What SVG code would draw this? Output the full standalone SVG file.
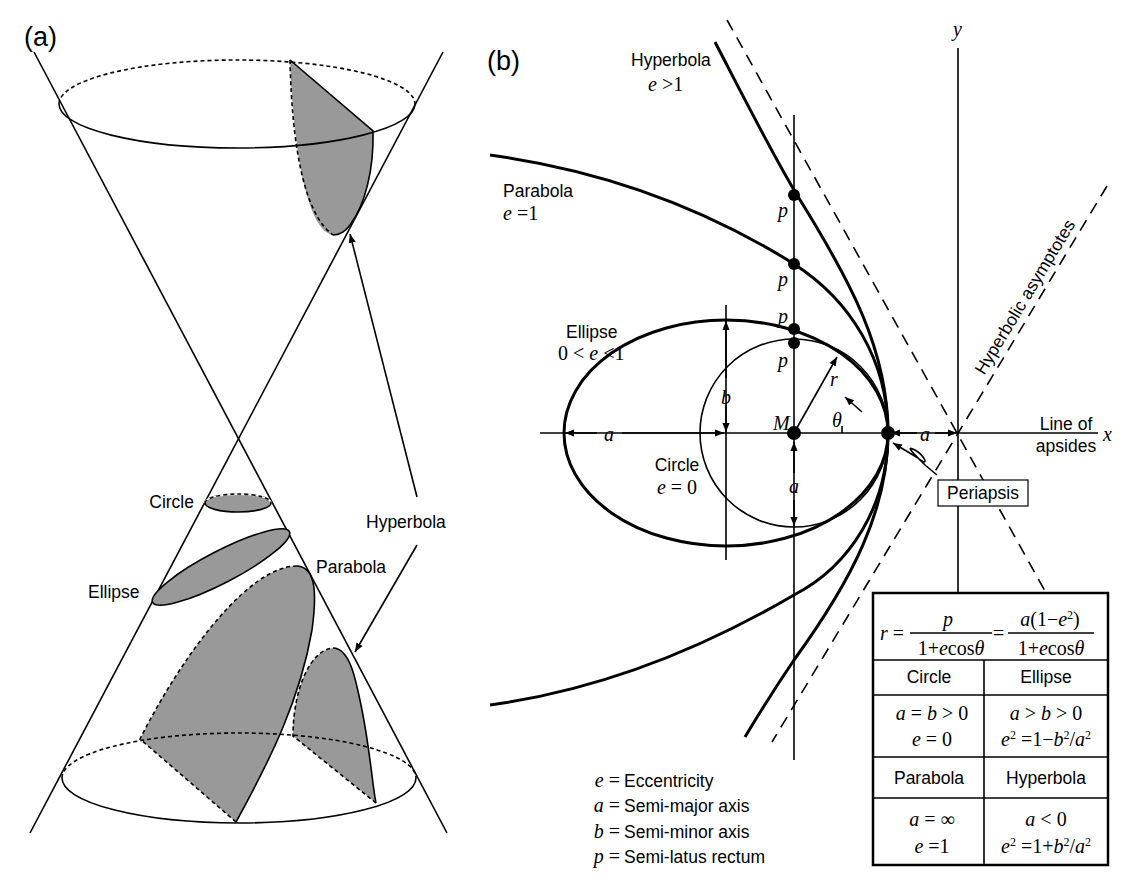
<svg xmlns="http://www.w3.org/2000/svg" width="1134" height="881" viewBox="0 0 1134 881">
<style>
.s{fill:none;stroke:#000;stroke-width:1.6}
.k{fill:none;stroke:#000;stroke-width:3}
.d{fill:none;stroke:#000;stroke-width:1.6;stroke-dasharray:4 3}
.ad{fill:none;stroke:#000;stroke-width:1.6;stroke-dasharray:12 8}
.g{fill:#999;stroke:none}
.t{font-family:"Liberation Sans",Arial,sans-serif;font-size:17.5px;fill:#000}
.big{font-size:27px}
.m{font-family:"Liberation Serif","Times New Roman",serif;font-style:italic;font-size:20px;fill:#000}
.mn{font-family:"Liberation Serif","Times New Roman",serif;font-size:20px;fill:#000}
.c{text-anchor:middle}
.r{text-anchor:end}
</style>
<defs>
<marker id="ar" viewBox="0 0 10 10" refX="10" refY="5" markerWidth="9" markerHeight="9" markerUnits="userSpaceOnUse" orient="auto"><path d="M0,1 L10,5 L0,9 Z" fill="#000"/></marker>
</defs>
<rect width="1134" height="881" fill="#fff"/>
<g id="panel-a">
<text class="t big" x="24" y="46">(a)</text>
<path class="g" d="M290,60 L373,131 C374,170 365,205 350,225 C345,232 338,235 333,235 C313,232 295,180 290,60 Z"/>
<path class="d" d="M290,60 C292,150 305,215 333,235"/>
<path class="s" d="M333,235 C338,235 345,232 350,225 C365,205 374,170 373,131 L290,60"/>
<path class="d" d="M59,104 A178,44 0 0 1 415,104"/>
<path class="s" d="M59,104 A178,44 0 0 0 415,104"/>
<line class="s" x1="34" y1="52" x2="447" y2="833"/>
<line class="s" x1="443" y1="52" x2="30" y2="833"/>
<g id="circle-sec"><ellipse cx="238" cy="503" rx="33" ry="9" fill="#999" stroke="#000" stroke-width="1.6"/><path d="M205,503 A33,9 0 0 1 271,503" fill="none" stroke="#fff" stroke-width="2"/><path class="d" d="M205,503 A33,9 0 0 1 271,503"/></g>
<g id="ellipse-sec"><ellipse cx="221" cy="567" rx="77" ry="16" transform="rotate(-27.4 221 567)" fill="#999" stroke="#000" stroke-width="1.6"/></g>
<g id="parabola-sec">
<path class="g" d="M140,739 C185,650 250,566 297,566 C318,567 316,600 312,630 C300,700 270,760 236,822 Z"/>
<path class="d" d="M236,822 L140,739 C185,650 250,566 297,566"/>
<path class="s" d="M297,566 C318,567 316,600 312,630 C300,700 270,760 236,822"/>
</g>
<g id="hyperbola-sec">
<path class="g" d="M293,736 C293,690 310,650 333,648 C350,648 356,680 362,710 C370,750 373,790 376,803 Z"/>
<path class="d" d="M376,803 L293,736 C293,690 310,650 333,648"/>
<path class="s" d="M333,648 C350,648 356,680 362,710 C370,750 373,790 376,803"/>
</g>
<path class="d" d="M62,778 A177,45 0 0 1 416,778"/>
<path class="s" d="M62,778 A177,45 0 0 0 416,778"/>
<line class="s" x1="417" y1="497" x2="350" y2="234" marker-end="url(#ar)"/>
<line class="s" x1="417" y1="545" x2="355" y2="652" marker-end="url(#ar)"/>
<text class="t r" x="194" y="508">Circle</text>
<text class="t" x="88" y="598">Ellipse</text>
<text class="t" x="316" y="573">Parabola</text>
<text class="t" x="366" y="528">Hyperbola</text>
</g>
<g id="panel-b">
<text class="t big" x="487" y="70">(b)</text>
<g id="axes">
<line class="s" x1="540" y1="433" x2="1098" y2="433"/>
<line class="s" x1="958" y1="48" x2="958" y2="592"/>
<line class="s" x1="794" y1="115" x2="794" y2="760"/>
<line class="s" x1="726" y1="305" x2="726" y2="560"/>
<text class="m" x="953" y="36">y</text>
<text class="m" x="1103" y="441">x</text>
<text class="t c" x="1066" y="430">Line of</text>
<text class="t c" x="1066" y="452">apsides</text>
</g>
<g id="asymptotes">
<line class="ad" x1="727" y1="20" x2="1050" y2="600"/>
<line class="ad" x1="1107" y1="186" x2="772" y2="742"/>
<text class="t" transform="translate(1030 300) rotate(-58.9)" text-anchor="middle">Hyperbolic asymptotes</text>
</g>
<g id="curves">
<circle class="s" cx="794" cy="433" r="94"/>
<ellipse class="k" cx="726" cy="433" rx="162" ry="113"/>
<path class="k" d="M888,433 C888,360 850,300 794,264 C700,205 600,170 490,155"/>
<path class="k" d="M888,433 C888,506 850,566 794,595 C700,650 600,690 490,705"/>
<path class="k" d="M888,433 C888,350 850,280 797,195 C770,150 740,90 715,42"/>
<path class="k" d="M888,433 C888,510 852,580 794,660 C775,688 760,712 745,737"/>
</g>
<g id="dims">
<line class="s" x1="597" y1="433" x2="565" y2="433" marker-end="url(#ar)"/>
<line class="s" x1="622" y1="433" x2="724" y2="433" marker-end="url(#ar)"/>
<line class="s" x1="726" y1="378" x2="726" y2="321" marker-end="url(#ar)"/>
<line class="s" x1="726" y1="405" x2="726" y2="432" marker-end="url(#ar)"/>
<line class="s" x1="794" y1="473" x2="794" y2="442" marker-end="url(#ar)"/>
<line class="s" x1="794" y1="500" x2="794" y2="526" marker-end="url(#ar)"/>
<line class="s" x1="917" y1="433" x2="891" y2="433" marker-end="url(#ar)"/>
<line class="s" x1="935" y1="433" x2="957" y2="433" marker-end="url(#ar)"/>
<line class="s" x1="794" y1="433" x2="837" y2="357" marker-end="url(#ar)"/>
<line class="s" x1="862" y1="412" x2="845" y2="397" marker-end="url(#ar)"/>
<line class="s" x1="842" y1="426" x2="842" y2="433"/>
<path class="s" d="M937,475 L925,465 C912,452 905,445 915,450 C925,456 930,468 918,458 L893,443" marker-end="url(#ar)"/>
</g>
<g id="dots">
<circle cx="794" cy="433" r="7"/>
<circle cx="888" cy="433" r="7"/>
<circle cx="794" cy="343" r="6"/>
<circle cx="794" cy="329" r="6"/>
<circle cx="794" cy="264" r="6"/>
<circle cx="794" cy="195" r="6"/>
</g>
<g id="labels">
<text class="m" x="604" y="441">a</text>
<text class="m" x="721" y="404">b</text>
<text class="m" x="789" y="493">a</text>
<text class="m" x="920" y="441">a</text>
<text class="m" x="773" y="430">M</text>
<text class="m" x="830" y="386">r</text>
<text class="m" x="832" y="427">θ</text>
<text class="m" x="778" y="217">p</text>
<text class="m" x="778" y="286">p</text>
<text class="m" x="778" y="323">p</text>
<text class="m" x="778" y="367">p</text>
<text class="t" x="631" y="66">Hyperbola</text>
<text class="mn" x="648" y="91"><tspan font-style="italic">e</tspan> &gt;1</text>
<text class="t" x="503" y="197">Parabola</text>
<text class="mn" x="503" y="220"><tspan font-style="italic">e</tspan> =1</text>
<text class="t" x="566" y="338">Ellipse</text>
<text class="mn" x="558" y="360">0 &lt; <tspan font-style="italic">e</tspan> &lt;1</text>
<text class="t c" x="677" y="471">Circle</text>
<text class="mn c" x="677" y="494"><tspan font-style="italic">e</tspan> = 0</text>
<rect x="938" y="480" width="90" height="26" fill="#fff" stroke="#000" stroke-width="1.2"/>
<text class="t c" x="983" y="499">Periapsis</text>
</g>
<g id="legend">
<text class="mn r" x="620" y="787"><tspan font-style="italic">e</tspan> =</text>
<text class="mn r" x="620" y="812"><tspan font-style="italic">a</tspan> =</text>
<text class="mn r" x="620" y="838"><tspan font-style="italic">b</tspan> =</text>
<text class="mn r" x="620" y="863"><tspan font-style="italic">p</tspan> =</text>
<text class="t" x="624" y="787">Eccentricity</text>
<text class="t" x="624" y="812">Semi-major axis</text>
<text class="t" x="624" y="838">Semi-minor axis</text>
<text class="t" x="624" y="863">Semi-latus rectum</text>
</g>
<g id="table">
<rect x="873" y="593" width="235" height="272" fill="#fff" stroke="#000" stroke-width="2.5"/>
<line class="s" x1="873" y1="660" x2="1108" y2="660" stroke-width="2.5"/>
<line class="s" x1="873" y1="695" x2="1108" y2="695"/>
<line class="s" x1="873" y1="757" x2="1108" y2="757" stroke-width="2.5"/>
<line class="s" x1="873" y1="798" x2="1108" y2="798"/>
<line class="s" x1="984" y1="660" x2="984" y2="865"/>
<text class="mn" x="880" y="640"><tspan font-style="italic">r</tspan> =</text>
<text class="m c" x="948" y="626">p</text>
<line class="s" x1="910" y1="633" x2="992" y2="633" stroke-width="1.2"/>
<text class="mn c" x="951" y="655">1+<tspan font-style="italic">e</tspan>cos<tspan font-style="italic">θ</tspan></text>
<text class="mn" x="993" y="640">=</text>
<text class="mn c" x="1050" y="626"><tspan font-style="italic">a</tspan>(1−<tspan font-style="italic">e</tspan><tspan font-size="12" dy="-7">2</tspan><tspan dy="7">)</tspan></text>
<line class="s" x1="1008" y1="633" x2="1094" y2="633" stroke-width="1.2"/>
<text class="mn c" x="1051" y="655">1+<tspan font-style="italic">e</tspan>cos<tspan font-style="italic">θ</tspan></text>
<text class="t c" x="929" y="683">Circle</text>
<text class="t c" x="1046" y="683">Ellipse</text>
<text class="mn c" x="932" y="720"><tspan font-style="italic">a</tspan> = <tspan font-style="italic">b</tspan> &gt; 0</text>
<text class="mn c" x="932" y="746"><tspan font-style="italic">e</tspan> = 0</text>
<text class="mn c" x="1046" y="720"><tspan font-style="italic">a</tspan> &gt; <tspan font-style="italic">b</tspan> &gt; 0</text>
<text class="mn c" x="1046" y="746"><tspan font-style="italic">e</tspan><tspan font-size="12" dy="-7">2</tspan><tspan dy="7"> =1−</tspan><tspan font-style="italic">b</tspan><tspan font-size="12" dy="-7">2</tspan><tspan dy="7">/</tspan><tspan font-style="italic">a</tspan><tspan font-size="12" dy="-7">2</tspan></text>
<text class="t c" x="929" y="784">Parabola</text>
<text class="t c" x="1046" y="784">Hyperbola</text>
<text class="mn c" x="932" y="826"><tspan font-style="italic">a</tspan> = ∞</text>
<text class="mn c" x="932" y="853"><tspan font-style="italic">e</tspan> =1</text>
<text class="mn c" x="1046" y="826"><tspan font-style="italic">a</tspan> &lt; 0</text>
<text class="mn c" x="1046" y="853"><tspan font-style="italic">e</tspan><tspan font-size="12" dy="-7">2</tspan><tspan dy="7"> =1+</tspan><tspan font-style="italic">b</tspan><tspan font-size="12" dy="-7">2</tspan><tspan dy="7">/</tspan><tspan font-style="italic">a</tspan><tspan font-size="12" dy="-7">2</tspan></text>
</g>
</g>
</svg>
